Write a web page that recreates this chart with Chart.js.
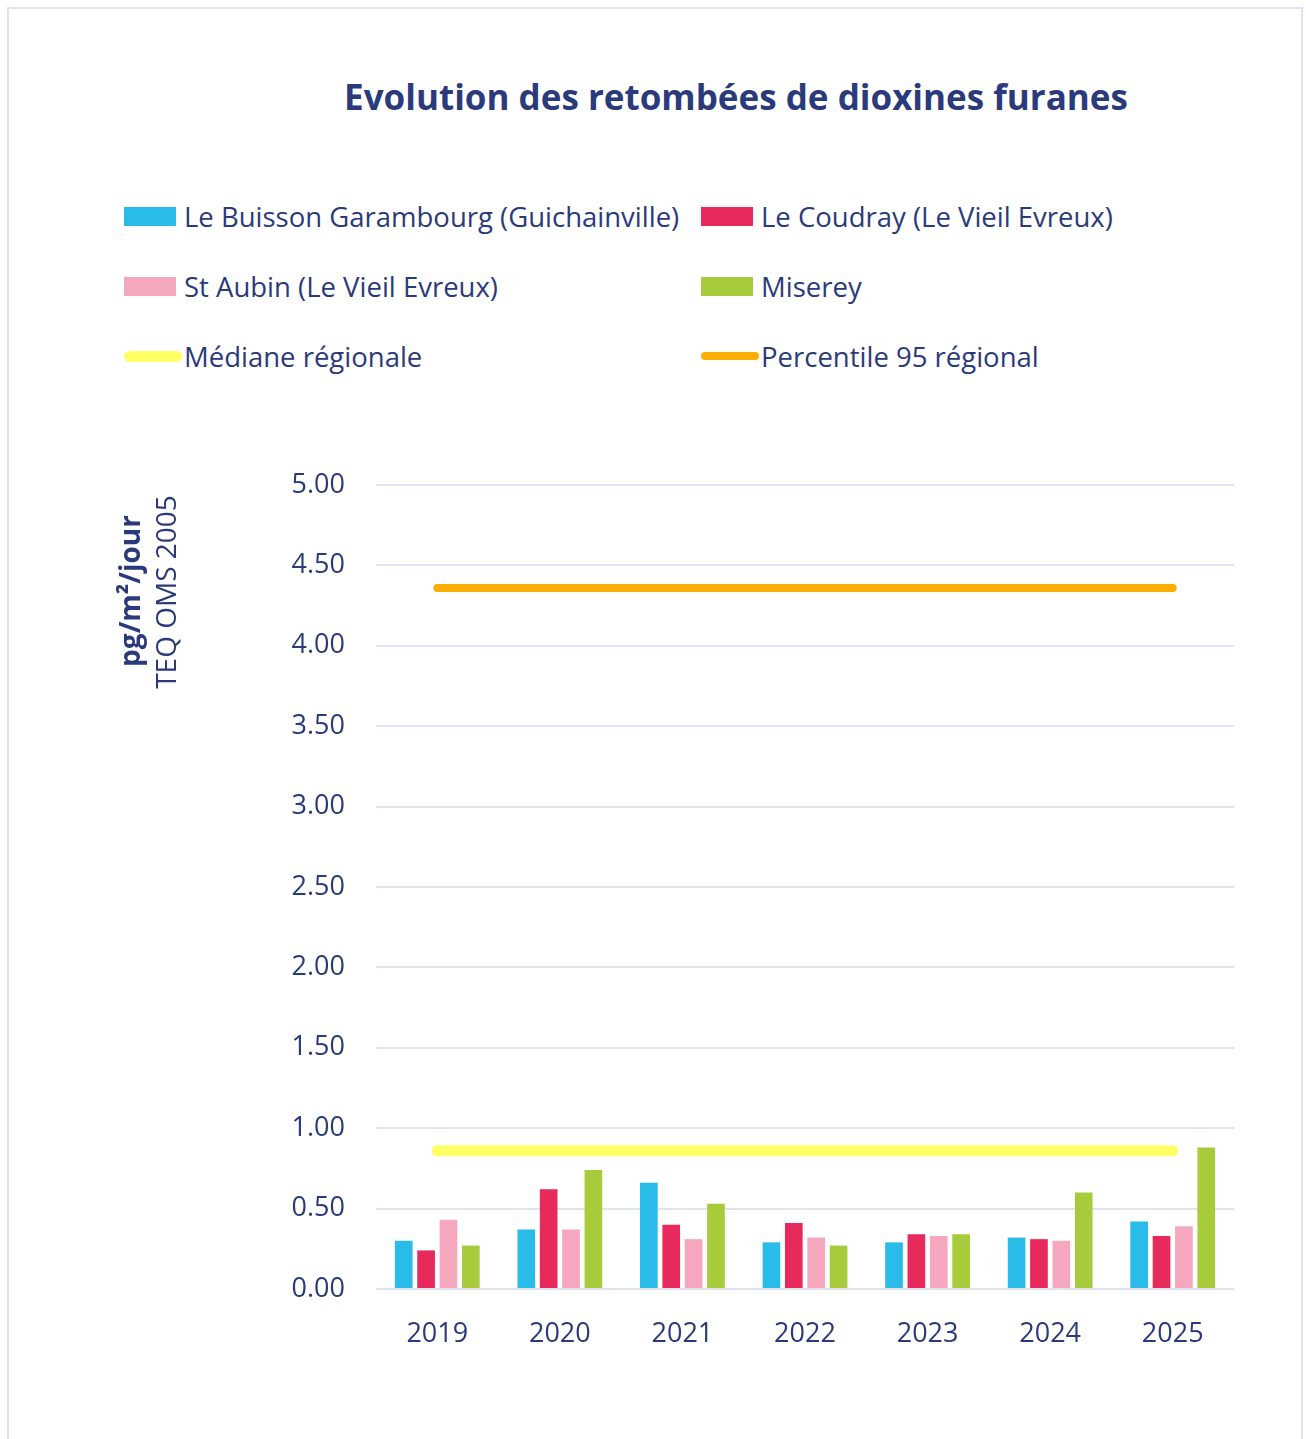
<!DOCTYPE html>
<html>
<head>
<meta charset="utf-8">
<title>Evolution des retombées de dioxines furanes</title>
<script src="https://cdn.jsdelivr.net/npm/chart.js"></script>
<style>
    html, body { margin: 0; padding: 0; background: #fff; }
    body { width: 1306px; height: 1439px; position: relative; overflow: hidden; font-family: 'Open Sans', sans-serif; color: #2b3a7a; }
    #frame { position: absolute; left: 7px; top: 7px; width: 1296px; height: 1450px; border: 2px solid #dfe2f5; box-sizing: border-box; }
    #title { position: absolute; left: 0; width: 1472px; top: 73px; text-align: center; font-weight: bold; font-size: 35px; }
    #legend { position: absolute; left: 0; top: 0; }
    .item { position: absolute; height: 40px; display: flex; align-items: center; font-size: 27.5px; white-space: nowrap; }
    .box { width: 52px; height: 19px; margin-right: 8px; }
    .bar-line { width: 58px; border-radius: 6px; margin-right: 2px; }
    #wrap { position: absolute; left: 0; top: 0; width: 1306px; height: 1439px; }
</style>
</head>
<body>
<div id="frame"></div>
<div id="title">Evolution des retombées de dioxines furanes</div>
<div id="legend"></div>
<div id="wrap"><canvas id="chart" width="1306" height="1439"></canvas></div>

<script>
// Data
const years = ['2019', '2020', '2021', '2022', '2023', '2024', '2025'];
const buisson = [0.30, 0.37, 0.66, 0.29, 0.29, 0.32, 0.42];
const coudray = [0.24, 0.62, 0.40, 0.41, 0.34, 0.31, 0.33];
const stAubin = [0.43, 0.37, 0.31, 0.32, 0.33, 0.30, 0.39];
const miserey = [0.27, 0.74, 0.53, 0.27, 0.34, 0.60, 0.88];
const medianeRegionale = [0.86, 0.86, 0.86, 0.86, 0.86, 0.86, 0.86];
const percentile95 = [4.36, 4.36, 4.36, 4.36, 4.36, 4.36, 4.36];
const yTicks = [0, 0.5, 1, 1.5, 2, 2.5, 3, 3.5, 4, 4.5, 5];

const textColor = '#2b3a7a';
const gridColor = '#dfe2f3';

const barSeries = [
    { label: 'Le Buisson Garambourg (Guichainville)', data: buisson, color: '#29bce9' },
    { label: 'Le Coudray (Le Vieil Evreux)', data: coudray, color: '#e8295c' },
    { label: 'St Aubin (Le Vieil Evreux)', data: stAubin, color: '#f5a8bd' },
    { label: 'Miserey', data: miserey, color: '#a8cb3b' }
];
const lineSeries = [
    { label: 'Médiane régionale', data: medianeRegionale, color: '#ffff66', width: 11 },
    { label: 'Percentile 95 régional', data: percentile95, color: '#fbad00', width: 8 }
];

// HTML legend in two columns
const legend = document.getElementById('legend');
const legendItems = barSeries.map(s => ({ label: s.label, color: s.color, line: false }))
    .concat(lineSeries.map(s => ({ label: s.label, color: s.color, line: true, width: s.width })));
legendItems.forEach((item, i) => {
    const div = document.createElement('div');
    div.className = 'item';
    div.style.left = (i % 2 === 0 ? 124 : 701) + 'px';
    div.style.top = (196 + Math.floor(i / 2) * 70) + 'px';
    const mark = document.createElement('span');
    if (item.line) {
        mark.className = 'bar-line';
        mark.style.height = item.width + 'px';
    } else {
        mark.className = 'box';
    }
    mark.style.background = item.color;
    div.appendChild(mark);
    div.appendChild(document.createTextNode(item.label));
    legend.appendChild(div);
});

// Rotated y axis title, drawn next to the top of the axis
const axisTitle = {
    id: 'axisTitle',
    afterDraw(chart) {
        const ctx = chart.ctx;
        ctx.save();
        ctx.fillStyle = textColor;
        ctx.textAlign = 'center';
        ctx.textBaseline = 'middle';
        ctx.translate(132, 591);
        ctx.rotate(-Math.PI / 2);
        ctx.font = 'bold 28px "Open Sans"';
        ctx.fillText('pg/m²/jour', 0, 0);
        ctx.font = '28px "Open Sans"';
        ctx.fillText('TEQ OMS 2005', -1, 36);
        ctx.restore();
    }
};

const datasets = barSeries.map(s => ({
    type: 'bar',
    label: s.label,
    data: s.data,
    backgroundColor: s.color,
    borderWidth: 0,
    categoryPercentage: 0.73,
    barPercentage: 0.79,
    order: 2
})).concat(lineSeries.map(s => ({
    type: 'line',
    label: s.label,
    data: s.data,
    borderColor: s.color,
    backgroundColor: s.color,
    borderWidth: s.width,
    borderCapStyle: 'round',
    pointRadius: 0,
    fill: false,
    order: 1
})));

new Chart(document.getElementById('chart'), {
    data: { labels: years, datasets: datasets },
    options: {
        responsive: false,
        animation: false,
        layout: { padding: { top: 485, right: 72, bottom: 70, left: 0 } },
        plugins: {
            legend: { display: false },
            title: { display: false },
            tooltip: { enabled: false }
        },
        scales: {
            x: {
                grid: { display: false },
                border: { display: false },
                ticks: { color: textColor, font: { family: 'Open Sans', size: 27 }, padding: 21 },
                afterFit(scale) { scale.height = 80; }
            },
            y: {
                min: 0,
                max: 5,
                afterBuildTicks(scale) { scale.ticks = yTicks.map(v => ({ value: v })); },
                grid: { color: gridColor, lineWidth: 2, drawTicks: false },
                border: { display: false },
                ticks: {
                    color: textColor,
                    font: { family: 'Open Sans', size: 27 },
                    padding: 31,
                    callback: v => v.toFixed(2)
                },
                afterFit(scale) { scale.width = 376; }
            }
        }
    },
    plugins: [axisTitle]
});
</script>
</body>
</html>
